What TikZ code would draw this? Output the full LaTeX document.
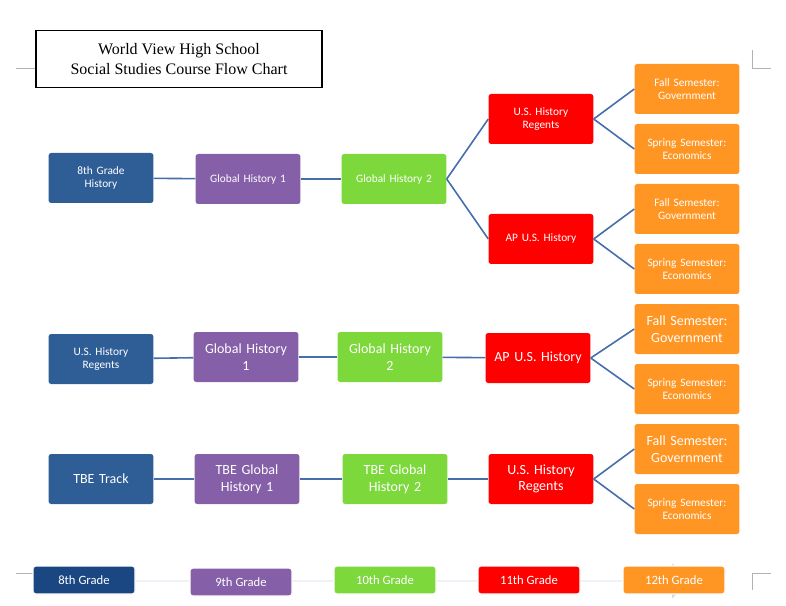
\documentclass[tikz,border=0pt]{standalone}
\usepackage{fontspec}
\setmainfont{Carlito}
\newfontfamily\titlefont{Liberation Serif}
\usetikzlibrary{positioning,shapes.arrows}
\definecolor{mynavy}{RGB}{47,94,151}
\definecolor{mydarknavy}{RGB}{26,71,130}
\definecolor{mypurple}{RGB}{133,95,167}
\definecolor{mygreen}{RGB}{125,216,60}
\definecolor{myred}{RGB}{255,0,0}
\definecolor{myorange}{RGB}{255,150,36}
\definecolor{myline}{RGB}{70,110,170}
\definecolor{mybar}{RGB}{208,218,236}

\begin{document}
\begin{tikzpicture}[
  x=0.75pt, y=-0.75pt,
  course/.style={
    fill=#1,
    rounded corners=2pt,
    minimum width=76.5pt,
    minimum height=37.5pt,
    text width=72pt,
    align=center,
    text=white,
    font=\fontsize{8.5}{10}\selectfont
    },
  big/.style={font=\fontsize{10.5}{12.5}\selectfont},
  grade/.style={
    fill=#1,
    draw=white,
    line width=1pt,
    rounded corners=2pt,
    minimum width=76.5pt,
    minimum height=21pt,
    text=white,
    font=\fontsize{9.5}{11}\selectfont
    },
  link/.style={myline, line width=1.2pt},
  cornermark/.style={gray!60, line width=0.6pt}
]
\useasboundingbox (0,0) rectangle (786,606);

% page corner marks
\draw[cornermark] (16,68) -- (35,68) -- (35,50);
\draw[cornermark] (752,50) -- (752,68) -- (771,68);
\draw[cornermark] (16,573) -- (35,573);
\draw[cornermark] (752,590) -- (752,573) -- (771,573);

% title
\node[draw, thick, minimum width=214.5pt, minimum height=42.75pt, align=center,
  font=\titlefont\fontsize{12}{14.5}\selectfont] (title) at (179,59)
  {World View High School\\Social Studies Course Flow Chart};

% first track
\node[course=mynavy] (eighth) at (101,178) {8th Grade\\History};
\node[course=mypurple] (global1) at (248,179) {Global History 1};
\node[course=mygreen] (global2) at (394,179) {Global History 2};
\node[course=myred] (regents1) at (541,119) {U.S. History\\Regents};
\node[course=myred] (ap1) at (541,239) {AP U.S. History};
\node[course=myorange] (fallA) at (687,89) {Fall Semester:\\Government};
\node[course=myorange] (springA) at (687,149) {Spring Semester:\\Economics};
\node[course=myorange] (fallB) at (687,209) {Fall Semester:\\Government};
\node[course=myorange] (springB) at (687,269) {Spring Semester:\\Economics};

% second track
\node[course=mynavy] (regentsstart) at (101,359) {U.S. History\\Regents};
\node[course=mypurple, big] (global1b) at (246,357) {Global History\\1};
\node[course=mygreen, big] (global2b) at (390,357) {Global History\\2};
\node[course=myred, big] (ap2) at (538,358) {AP U.S. History};
\node[course=myorange, big] (fallC) at (687,329) {Fall Semester:\\Government};
\node[course=myorange] (springC) at (687,389) {Spring Semester:\\Economics};

% third track
\node[course=mynavy, big] (tbe) at (101,479) {TBE Track};
\node[course=mypurple, big] (tbe1) at (247,479) {TBE Global\\History 1};
\node[course=mygreen, big] (tbe2) at (395,479) {TBE Global\\History 2};
\node[course=myred, big] (regents3) at (541,479) {U.S. History\\Regents};
\node[course=myorange, big] (fallD) at (687,449) {Fall Semester:\\Government};
\node[course=myorange] (springD) at (687,509) {Spring Semester:\\Economics};

% connectors
\draw[link] (eighth) -- (global1);
\draw[link] (global1) -- (global2);
\draw[link] (global2.east) -- (regents1.west);
\draw[link] (global2.east) -- (ap1.west);
\draw[link] (regents1.east) -- (fallA.west);
\draw[link] (regents1.east) -- (springA.west);
\draw[link] (ap1.east) -- (fallB.west);
\draw[link] (ap1.east) -- (springB.west);
\draw[link] (regentsstart) -- (global1b);
\draw[link] (global1b) -- (global2b);
\draw[link] (global2b) -- (ap2);
\draw[link] (ap2.east) -- (fallC.west);
\draw[link] (ap2.east) -- (springC.west);
\draw[link] (tbe) -- (tbe1);
\draw[link] (tbe1) -- (tbe2);
\draw[link] (tbe2) -- (regents3);
\draw[link] (regents3.east) -- (fallD.west);
\draw[link] (regents3.east) -- (springD.west);

% grade bar
\node[single arrow, fill=mybar, minimum height=473pt, minimum width=26pt,
  single arrow head extend=13pt, single arrow tip angle=90, inner sep=0pt,
  anchor=tip] (bar) at (690,581) {};
\node[grade=mydarknavy] (g8) at (84,580) {8th Grade};
\node[grade=mypurple] (g9) at (241,582) {9th Grade};
\node[grade=mygreen] (g10) at (385,580) {10th Grade};
\node[grade=myred] (g11) at (529,580) {11th Grade};
\node[grade=myorange] (g12) at (674,580) {12th Grade};
\end{tikzpicture}
\end{document}
